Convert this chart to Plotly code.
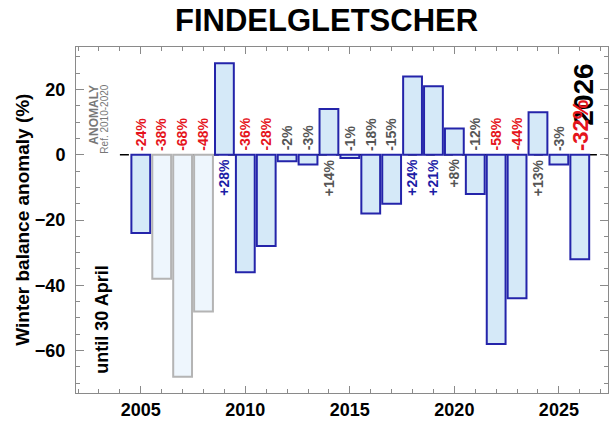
import plotly.graph_objects as go

# ---- data ----
years = list(range(2005, 2027))
anomaly = [-24, -38, -68, -48, 28, -36, -28, -2, -3, 14, -1, -18, -15,
           24, 21, 8, -12, -58, -44, 13, -3, -32]
pale_years = [2006, 2007, 2008]
title_text = "FINDELGLETSCHER"
y_title = "Winter balance anomaly (%)"
current_year = 2026
x_ticks = [2005, 2010, 2015, 2020, 2025]
y_ticks = [-60, -40, -20, 0, 20]

FONT = "Liberation Sans, Arial, sans-serif"
BLUE_FILL = "#d5e9f8"
BLUE_LINE = "#2424aa"
PALE_FILL = "#eef6fd"
PALE_LINE = "#b4b4b4"
RED = "#e5141c"
GRAY = "#555555"
DARKBLUE = "#1c1ca6"
AX = "#8a8a8a"

fills = [PALE_FILL if y in pale_years else BLUE_FILL for y in years]
lines = [PALE_LINE if y in pale_years else BLUE_LINE for y in years]

fig = go.Figure()
fig.add_trace(go.Bar(
    x=years, y=anomaly, width=0.9,
    marker=dict(color=fills, line=dict(color=lines, width=2)),
    showlegend=False, hoverinfo="x+y",
))

XR = [2001.9, 2027.35]
YR = [-73, 33]

# zero dashed line
fig.add_shape(type="line", xref="x", yref="y", x0=2004.0, x1=XR[1], y0=0, y1=0,
              line=dict(color="black", width=1.5, dash="dash"), layer="below")

annotations = []
# current year big label (drawn first so the red value sits on top)
annotations.append(dict(
    x=current_year + 0.17, y=18.5, xref="x", yref="y", text=str(current_year),
    showarrow=False, textangle=-90, xanchor="center", yanchor="middle",
    font=dict(family=FONT, size=28, color="black", weight="bold"),
))

for yr, v in zip(years, anomaly):
    if v < 0:
        col = RED if v <= -20 else GRAY
        ya, ys = "bottom", 2
    else:
        col = DARKBLUE if v >= 20 else GRAY
        ya, ys = "top", -2
    size = 22 if yr == current_year else 14
    annotations.append(dict(
        x=yr, y=0, xref="x", yref="y", text=f"{v:+d}%", showarrow=False,
        textangle=-90, xanchor="center", yanchor=ya, yshift=ys,
        font=dict(family=FONT, size=size, color=col, weight="bold"),
    ))

# ANOMALY / Ref
annotations.append(dict(
    x=2002.75, y=22, xref="x", yref="y", text="ANOMALY", showarrow=False,
    textangle=-90, xanchor="center", yanchor="top",
    font=dict(family=FONT, size=12, color="#777777", weight="bold"),
))
annotations.append(dict(
    x=2003.25, y=22, xref="x", yref="y", text="Ref. 2010-2020", showarrow=False,
    textangle=-90, xanchor="center", yanchor="top",
    font=dict(family=FONT, size=10, color="#777777"),
))
# until 30 April
annotations.append(dict(
    x=2003.1, y=-50.5, xref="x", yref="y", text="until 30 April", showarrow=False,
    textangle=-90, xanchor="center", yanchor="middle",
    font=dict(family=FONT, size=18, color="black", weight="bold"),
))
# y title
annotations.append(dict(
    x=-0.102, y=0.5, xref="paper", yref="paper", text=y_title, showarrow=False,
    textangle=-90, xanchor="center", yanchor="middle",
    font=dict(family=FONT, size=19, color="black", weight="bold"),
))
# title
annotations.append(dict(
    x=0.47, y=1.078, xref="paper", yref="paper", text=title_text, showarrow=False,
    xanchor="center", yanchor="middle",
    font=dict(family=FONT, size=31, color="black", weight="bold"),
))

fig.update_layout(
    width=613, height=425,
    margin=dict(l=76, r=5, t=47, b=32),
    paper_bgcolor="white", plot_bgcolor="white",
    annotations=annotations,
    bargap=0.1,
    xaxis=dict(
        range=XR, tickmode="array", tickvals=x_ticks,
        ticks="inside", ticklen=7, tickcolor=AX, tickwidth=1,
        showline=True, linecolor=AX, linewidth=1, mirror="allticks",
        showgrid=False, zeroline=False, automargin=False,
        tickfont=dict(family=FONT, size=18, color="black", weight="bold"),
        minor=dict(tickmode="linear", tick0=2000, dtick=1, ticks="inside",
                   ticklen=4, tickcolor=AX, showgrid=False),
    ),
    yaxis=dict(
        range=YR, tickmode="array", tickvals=y_ticks,
        ticks="inside", ticklen=8, tickcolor=AX, tickwidth=1,
        showline=True, linecolor=AX, linewidth=1, mirror="allticks",
        showgrid=False, zeroline=False, automargin=False,
        ticklabelstandoff=6,
        tickfont=dict(family=FONT, size=18, color="black", weight="bold"),
        minor=dict(tickmode="linear", tick0=0, dtick=5, ticks="inside",
                   ticklen=4, tickcolor=AX, showgrid=False),
    ),
)

fig.write_html(
    "out.html",
    config={"displayModeBar": False},
    post_script="document.body.style.margin='0';document.body.style.padding='0';",
)
